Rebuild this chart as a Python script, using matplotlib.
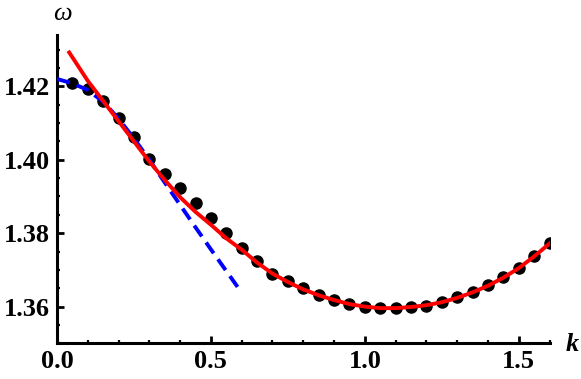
import numpy as np
import matplotlib
matplotlib.use("Agg")
import matplotlib.pyplot as plt
from matplotlib.ticker import MultipleLocator, FormatStrFormatter

# numerical points (black dots)
k_pts = [0.05, 0.10, 0.15, 0.20, 0.25, 0.30, 0.35, 0.40, 0.45, 0.50,
         0.55, 0.60, 0.65, 0.70, 0.75, 0.80, 0.85, 0.90, 0.95, 1.00,
         1.05, 1.10, 1.15, 1.20, 1.25, 1.30, 1.35, 1.40, 1.45, 1.50,
         1.55, 1.60]
w_pts = [1.4210, 1.4192, 1.4159, 1.4113, 1.4063, 1.4003, 1.3961, 1.3922,
         1.3882, 1.3841, 1.3800, 1.3760, 1.3723, 1.3690, 1.3670, 1.3650,
         1.3632, 1.3618, 1.3607, 1.3600, 1.3596, 1.3596, 1.3600, 1.3603,
         1.3612, 1.3626, 1.3641, 1.3659, 1.3680, 1.3705, 1.3738, 1.3774]

# red fitted curve
k_red = [0.04, 0.10, 0.15, 0.20, 0.25, 0.30, 0.35, 0.40, 0.45, 0.50,
         0.55, 0.60, 0.65, 0.70, 0.75, 0.80, 0.85, 0.90, 0.95, 1.00,
         1.05, 1.10, 1.15, 1.20, 1.25, 1.30, 1.35, 1.40, 1.45, 1.50,
         1.55, 1.60]
w_red = [1.4292, 1.4215, 1.4160, 1.4105, 1.4050, 1.3995, 1.3945, 1.3898,
         1.3858, 1.3823, 1.3786, 1.3755, 1.3720, 1.3690, 1.3667, 1.3647,
         1.3631, 1.3618, 1.3607, 1.3600, 1.3596, 1.3596, 1.3599, 1.3604,
         1.3612, 1.3624, 1.3639, 1.3657, 1.3679, 1.3705, 1.3737, 1.3772]

# blue dashed small-k approximation
k_blue = [0.00, 0.05, 0.10, 0.15, 0.20, 0.25, 0.30, 0.35, 0.40, 0.45,
          0.50, 0.55, 0.60]
w_blue = [1.4220, 1.4208, 1.4190, 1.4158, 1.4112, 1.4058, 1.4000, 1.3938,
          1.3877, 1.3816, 1.3756, 1.3697, 1.3638]

fig = plt.figure(figsize=(5.81, 3.79), dpi=100)
ax = fig.add_axes([0.098, 0.094, 0.848, 0.814])

ax.plot(k_pts, w_pts, "o", color="black", ms=8, zorder=2)
ax.plot(k_blue, w_blue, color="blue", lw=2.8, dashes=(3.4, 1.9), zorder=3)
ax.plot(k_red, w_red, color="red", lw=2.8, zorder=4)

ax.set_xlim(0, 1.6)
ax.set_ylim(1.35, 1.434)

for s in ["top", "right"]:
    ax.spines[s].set_visible(False)
for s in ["left", "bottom"]:
    ax.spines[s].set_linewidth(2.2)

ax.xaxis.set_major_locator(MultipleLocator(0.5))
ax.xaxis.set_minor_locator(MultipleLocator(0.1))
ax.yaxis.set_major_locator(MultipleLocator(0.02))
ax.yaxis.set_minor_locator(MultipleLocator(0.005))
ax.xaxis.set_major_formatter(FormatStrFormatter("%.1f"))
ax.yaxis.set_major_formatter(FormatStrFormatter("%.2f"))

ax.tick_params(which="major", direction="in", length=5, width=2, pad=5)
ax.tick_params(which="minor", direction="in", length=2.5, width=1.6)
for lab in ax.get_xticklabels() + ax.get_yticklabels():
    lab.set_fontfamily("Liberation Serif")
    lab.set_fontweight("bold")
    lab.set_fontsize(19)

fig.text(0.107, 0.962, "ω", ha="center", va="center", fontsize=19,
         fontfamily="Liberation Serif", fontstyle="italic")
fig.text(0.985, 0.09, "k", ha="center", va="center", fontsize=19,
         fontfamily="Liberation Serif", fontstyle="italic", fontweight="bold")

fig.savefig("out.png", dpi=100)
